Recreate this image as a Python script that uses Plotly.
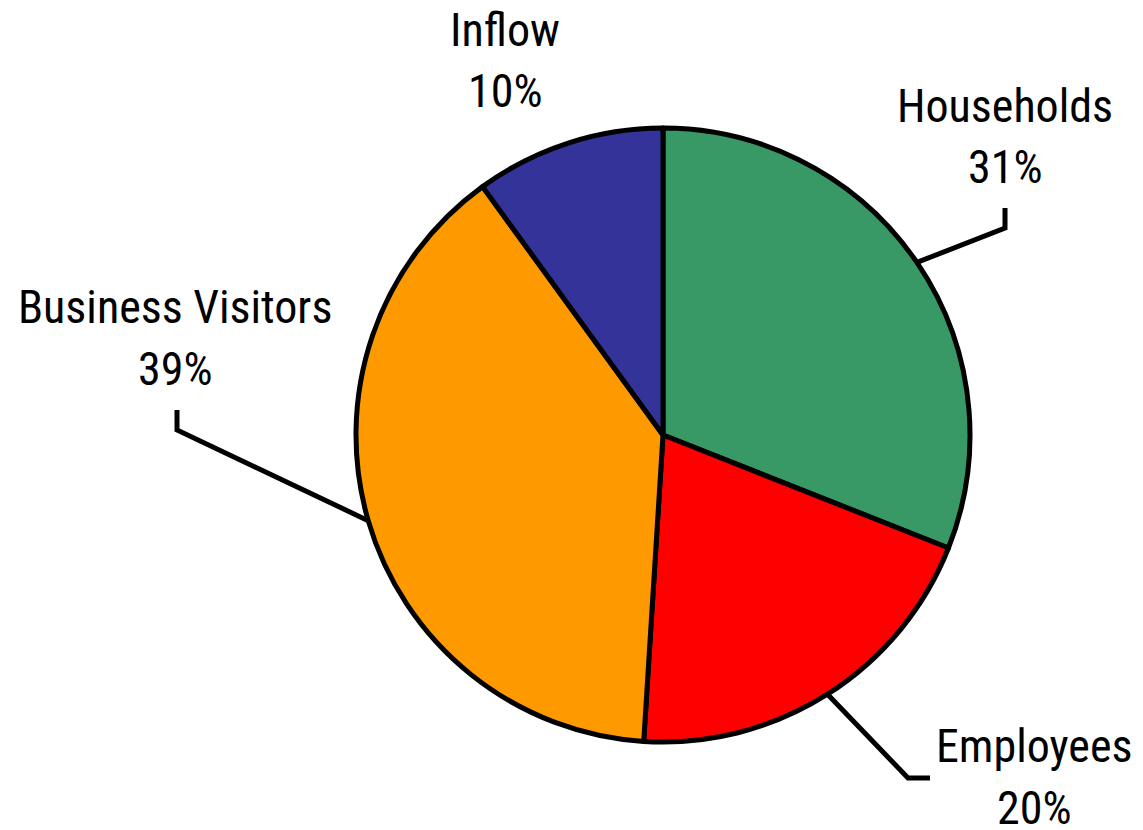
import math
import plotly.graph_objects as go

categories = ["Households", "Employees", "Business Visitors", "Inflow"]
values = [31, 20, 39, 10]
colors = ["#389966", "#FF0000", "#FF9900", "#333399"]

W, H = 1143, 830
CX, CY, R = 663, 435, 307
FONT = "Liberation Sans Narrow, Arial Narrow, Roboto Condensed, sans-serif"
FS = 46


def px(x, y):
    return x / W, 1 - y / H


fig = go.Figure(go.Pie(
    labels=categories, values=values, sort=False, direction="clockwise",
    rotation=0, textinfo="none", hoverinfo="label+percent",
    marker=dict(colors=colors, line=dict(color="black", width=5)),
    domain=dict(x=[(CX - R) / W, (CX + R) / W], y=[1 - (CY + R) / H, 1 - (CY - R) / H]),
    showlegend=False,
))

total = sum(values)
cum = 0
mids = {}
for c, v in zip(categories, values):
    mids[c] = (cum + v / 2) / total * 2 * math.pi
    cum += v

# label layout: (center x, name baseline y, percent baseline y, elbow points or None)
label_pos = {
    "Households": (1005, 122, 183, [(1005, 228), (1005, 208)]),
    "Employees": (1034, 762, 824, [(908, 778), (930, 778)]),
    "Business Visitors": (175, 323, 385, [(177, 430), (177, 410)]),
    "Inflow": (505, 46, 107, None),
}

annotations = []
shapes = []
for c, v in zip(categories, values):
    lx, by1, by2, elbow = label_pos[c]
    pct = round(v / total * 100)
    for txt, by in ((c, by1), (f"{pct}%", by2)):
        x, y = px(lx, by - 16)
        annotations.append(dict(x=x, y=y, xref="paper", yref="paper", text=txt,
                                showarrow=False, xanchor="center", yanchor="middle",
                                font=dict(family=FONT, size=FS, color="black")))
    if elbow:
        a = mids[c]
        sx, sy = CX + R * math.sin(a), CY - R * math.cos(a)
        pts = [(sx, sy)] + elbow
        path = "M " + " L ".join(f"{px(x, y)[0]:.5f},{px(x, y)[1]:.5f}" for x, y in pts)
        shapes.append(dict(type="path", path=path, xref="paper", yref="paper",
                           line=dict(color="black", width=5)))

fig.update_layout(width=W, height=H, margin=dict(l=0, r=0, t=0, b=0),
                  paper_bgcolor="white", plot_bgcolor="white",
                  annotations=annotations, shapes=shapes)
fig.write_html("out.html")
